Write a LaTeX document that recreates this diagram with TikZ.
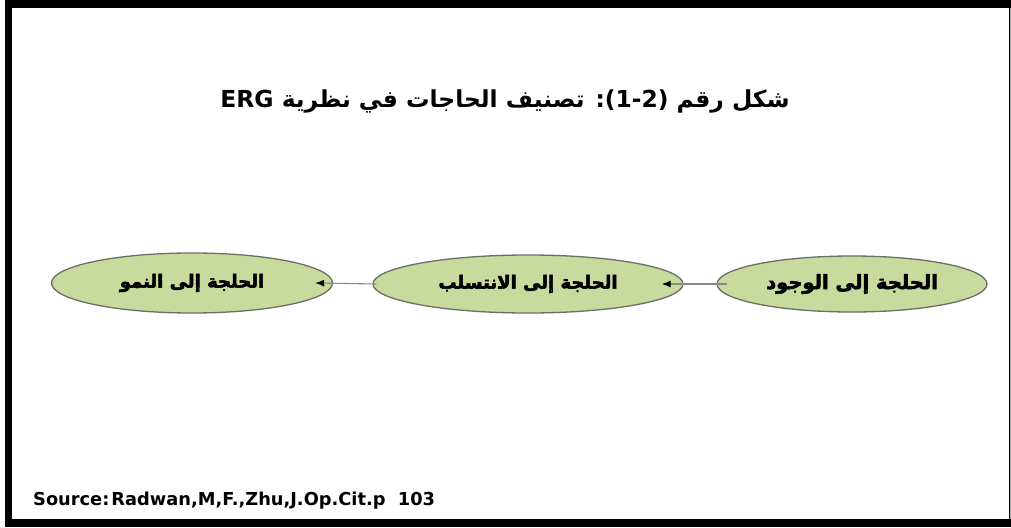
\documentclass[tikz,border=0pt]{standalone}
\usepackage{fontspec}
\usetikzlibrary{arrows.meta,shapes.geometric}
\TeXXeTstate=1
\newfontfamily\arabicfont[Script=Arabic]{DejaVu Sans}
\newfontfamily\arabicheavy[Script=Arabic,FakeBold=3]{DejaVu Sans Bold}
\newfontfamily\latinbold{DejaVu Sans}
\definecolor{ellfill}{HTML}{C9DA9F}
\definecolor{elldraw}{HTML}{6E6E64}
\definecolor{connc}{HTML}{8A8A8A}
\tikzset{
  need/.style={ellipse, draw=elldraw, line width=1.3pt, fill=ellfill, inner sep=0pt,
    font=\arabicheavy\fontsize{18}{21}\selectfont},
  conn/.style={draw=connc, line width=1.1pt, -{Latex[length=9pt,width=7pt,fill=black,color=black]}}
}
\begin{document}
\begin{tikzpicture}[x=1pt,y=-1pt]
\useasboundingbox (0,0) rectangle (1011,527);
\fill[black] (5,0) rectangle (1011,527);
\fill[white] (12,8) rectangle (1009,519);
\draw[gray!70, line width=1pt] (1010,8) -- (1010,519);
\node[font=\arabicfont\bfseries\fontsize{23.4}{26}\selectfont] (title) at (505,101)
  {\beginR شكل رقم \beginL(1-2):\endL{} تصنيف الحاجات في نظرية \beginL ERG\endL\endR};
\node[need, minimum width=281pt, minimum height=60pt] (L) at (192,283) {\beginR الحلجة إلى النمو\endR};
\node[need, minimum width=310pt, minimum height=58pt] (M) at (528,284) {\beginR الحلجة إلى الانتسلب\endR};
\node[need, minimum width=270pt, minimum height=56pt, font=\arabicheavy\fontsize{19.5}{22}\selectfont] (R) at (852,284) {\beginR الحلجة إلى الوجود\endR};
\draw[conn] ([xshift=11pt]R.west) -- ([xshift=-22pt]M.east);
\draw[conn] ([xshift=4pt]M.west) -- ([xshift=-18pt]L.east);
\node[anchor=base west, inner sep=0pt, font=\latinbold\bfseries\fontsize{17.8}{20}\selectfont] (src) at (33,505)
  {Source:\kern2pt Radwan,M,F.,Zhu,J.Op.Cit.p\ \ 103};
\end{tikzpicture}
\end{document}
